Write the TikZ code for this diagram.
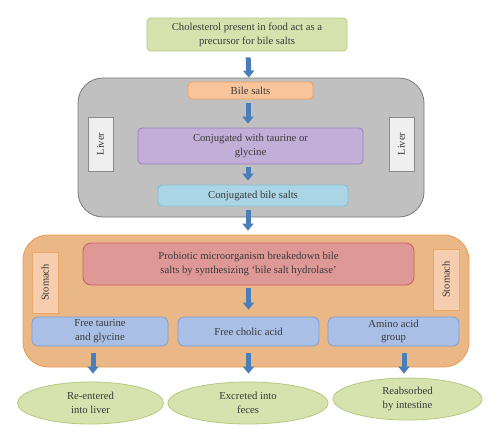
\documentclass[tikz,border=0pt]{standalone}
\usepackage{fontspec}
\setmainfont{Liberation Serif}
\usetikzlibrary{arrows.meta,shapes.geometric}
\definecolor{txt}{HTML}{3A3A3A}
\definecolor{grnF}{HTML}{D6E3AE}
\definecolor{grnD}{HTML}{B2CB7E}
\definecolor{gryF}{HTML}{C0C0C0}
\definecolor{gryD}{HTML}{7A7A7A}
\definecolor{livF}{HTML}{EFEFEF}
\definecolor{livD}{HTML}{8A8A8A}
\definecolor{orgF}{HTML}{F7C49C}
\definecolor{orgD}{HTML}{F0A060}
\definecolor{purF}{HTML}{C2AED6}
\definecolor{purD}{HTML}{9A80BA}
\definecolor{cyaF}{HTML}{ABD4E4}
\definecolor{cyaD}{HTML}{7CC0D6}
\definecolor{stmF}{HTML}{E9B886}
\definecolor{stmD}{HTML}{F09A50}
\definecolor{redF}{HTML}{DE9896}
\definecolor{redD}{HTML}{C86060}
\definecolor{pchF}{HTML}{F6CDAE}
\definecolor{pchD}{HTML}{EEA666}
\definecolor{bluF}{HTML}{A9BFE5}
\definecolor{bluD}{HTML}{7E9ED6}
\definecolor{arrF}{HTML}{4A7EBB}
\tikzset{
  base/.style={draw, line width=0.8pt, rounded corners=4pt, align=center, text=txt,
    font=\fontsize{10.7}{13.8}\selectfont, inner sep=0pt},
  arr/.style={line width=5pt, draw=arrF, -{Triangle[width=11pt,length=7pt]}},
  lbl/.style={draw, line width=0.8pt, rotate=90, text=txt, inner sep=0pt,
    font=\fontsize{10.5}{12}\selectfont},
  oval/.style={draw=grnD, fill=grnF, line width=0.8pt, ellipse, text=txt, align=center,
    font=\fontsize{10.7}{13.8}\selectfont, inner sep=0pt}
}
\begin{document}
\begin{tikzpicture}[x=1pt,y=-1pt]
\useasboundingbox[fill=white] (0,0) rectangle (500,442);
% containers
\node[draw=gryD, fill=gryF, line width=0.8pt, rounded corners=25pt,
  minimum width=346pt, minimum height=139pt, inner sep=0pt] (liver) at (251,147.5) {};
\node[draw=stmD, fill=stmF, line width=0.8pt, rounded corners=25pt,
  minimum width=446pt, minimum height=132pt, inner sep=0pt] (stom) at (246,301) {};
% top
\node[base, draw=grnD, fill=grnF, minimum width=200pt, minimum height=33pt] (top) at (247,34.5)
  {Cholesterol present in food act as a\\precursor for bile salts};
% liver part
\node[base, draw=orgD, fill=orgF, minimum width=125pt, minimum height=17pt] (bile) at (250.5,90.5) {Bile salts};
\node[base, draw=purD, fill=purF, minimum width=225pt, minimum height=36pt] (conj) at (250.5,146)
  {Conjugated with taurine or\\glycine};
\node[base, draw=cyaD, fill=cyaF, minimum width=190pt, minimum height=21pt] (cbs) at (253,195.5) {Conjugated bile salts};
\node[lbl, draw=livD, fill=livF, minimum width=54pt, minimum height=25pt] (livL) at (100.5,144) {Liver};
\node[lbl, draw=livD, fill=livF, minimum width=54pt, minimum height=25pt] (livR) at (401.5,144) {Liver};
% stomach part
\node[base, draw=redD, fill=redF, minimum width=331pt, minimum height=42pt, rounded corners=8pt] (red) at (248.5,264)
  {Probiotic microorganism breakedown bile\\salts by synthesizing `bile salt hydrolase'};
\node[lbl, draw=pchD, fill=pchF, minimum width=61pt, minimum height=26pt, rounded corners=0pt] (stL) at (45,282.5) {Stomach};
\node[lbl, draw=pchD, fill=pchF, minimum width=61pt, minimum height=26pt, rounded corners=0pt] (stR) at (446,279.5) {Stomach};
\node[base, draw=bluD, fill=bluF, minimum width=136pt, minimum height=29pt, rounded corners=6pt] (b1) at (100,331.5)
  {Free taurine\\and glycine};
\node[base, draw=bluD, fill=bluF, minimum width=141pt, minimum height=29pt, rounded corners=6pt] (b2) at (248.5,331.5)
  {Free cholic acid};
\node[base, draw=bluD, fill=bluF, minimum width=131pt, minimum height=29pt, rounded corners=6pt] (b3) at (393.5,331.5)
  {Amino acid\\group};
% ovals
\node[oval, minimum width=146pt, minimum height=42pt] (e1) at (90.5,403) {Re-entered\\into liver};
\node[oval, minimum width=160pt, minimum height=42pt] (e2) at (248,403) {Excreted into\\feces};
\node[oval, minimum width=149pt, minimum height=42pt] (e3) at (407.5,399) {Reabsorbed\\by intestine};
% arrows
\draw[arr, shorten <=6pt, shorten >=4pt] ([xshift=1pt]top.south) -- ([xshift=-1.5pt]bile.north);
\draw[arr, shorten <=4pt, shorten >=4pt] ([xshift=-2.5pt]bile.south) -- ([xshift=-2.5pt]bile.south |- conj.north);
\draw[arr, shorten <=3pt, shorten >=4pt] ([xshift=-2.5pt]conj.south) -- ([xshift=-2.5pt]conj.south |- cbs.north);
\draw[arr, shorten <=4pt, shorten >=12pt] ([xshift=-5pt]cbs.south) -- ([xshift=-5pt]cbs.south |- red.north);
\draw[arr, shorten <=3pt, shorten >=7pt] (red.south) -- (red.south |- b2.north);
\draw[arr, shorten <=7pt, shorten >=8pt] ([xshift=-7pt]b1.south) -- ([xshift=-7pt]b1.south |- e1.north);
\draw[arr, shorten <=7pt, shorten >=8pt] (b2.south) -- (b2.south |- e2.north);
\draw[arr, shorten <=7pt, shorten >=4pt] ([xshift=10.5pt]b3.south) -- ([xshift=10.5pt]b3.south |- e3.north);
\end{tikzpicture}
\end{document}
